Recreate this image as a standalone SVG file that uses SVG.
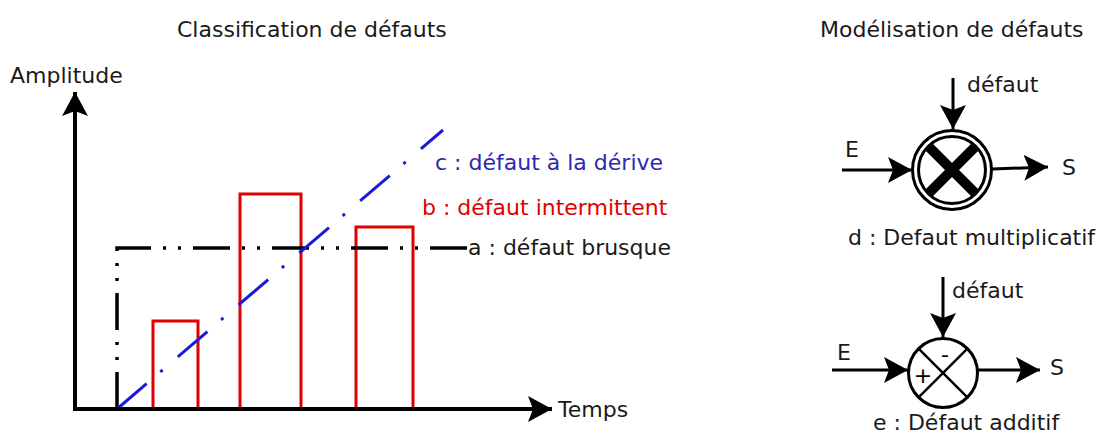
<svg xmlns="http://www.w3.org/2000/svg" width="1099" height="435" viewBox="0 0 1099 435">
<style>
text{font-family:"DejaVu Sans",Verdana,sans-serif;font-size:22px;fill:#1a1a1a}
.sign{fill:#000;font-size:22px}
.ax{stroke:#000;stroke-width:4;fill:none}
.ln{stroke:#000;stroke-width:3;fill:none}
.bar{stroke:#e00000;stroke-width:3;fill:none}
.step{stroke:#000;stroke-width:3.5;fill:none;stroke-dasharray:37 12 3 12 3 12}
.drift{stroke:#1a1ad6;stroke-width:3;fill:none;stroke-dasharray:39 18 3 20}
</style>
<defs>
<marker id="ah" viewBox="0 0 24 26" refX="24" refY="13" markerWidth="24" markerHeight="26" markerUnits="userSpaceOnUse" orient="auto">
<path d="M0,0 L24,13 L0,26 L5,13 Z" fill="#000"/>
</marker>
</defs>
<text x="177" y="37">Classification de défauts</text>
<text x="820" y="37">Modélisation de défauts</text>
<g id="chart">
<path class="bar" d="M153,409 V321 H198 V409"/>
<path class="bar" d="M240,409 V194 H301 V409"/>
<path class="bar" d="M356,409 V227 H413 V409"/>
<path class="step" d="M117,409 V248 H467"/>
<path class="drift" d="M117,409 L443,130"/>
<line class="ax" x1="75" y1="411" x2="75" y2="92" marker-end="url(#ah)"/>
<line class="ax" x1="73" y1="409" x2="552" y2="409" marker-end="url(#ah)"/>
<text x="10" y="83">Amplitude</text>
<text x="558" y="417">Temps</text>
<text x="435" y="170" style="fill:#2a2ab0">c : défaut à la dérive</text>
<text x="422" y="215" style="fill:#e00000">b : défaut intermittent</text>
<text x="468" y="255">a : défaut brusque</text>
</g>
<g id="mult">
<circle cx="952" cy="170" r="39.5" class="ln"/>
<circle cx="952" cy="170" r="33.5" class="ln"/>
<path d="M928,146 L976,194 M976,146 L928,194" stroke="#000" stroke-width="10" fill="none"/>
<text x="967" y="92">défaut</text>
<text x="845" y="157">E</text>
<text x="1062" y="175">S</text>
<text x="848" y="245">d : Defaut multiplicatif</text>
</g>
<g id="add">
<circle cx="943" cy="373" r="34.5" class="ln"/>
<path d="M918.6,348.6 L967.4,397.4 M967.4,348.6 L918.6,397.4" stroke="#000" stroke-width="2.5" fill="none"/>
<text x="945" y="362" text-anchor="middle" class="sign">-</text>
<text x="923" y="383" text-anchor="middle" class="sign">+</text>
<text x="952" y="298">défaut</text>
<text x="837" y="360">E</text>
<text x="1050" y="375">S</text>
<text x="873" y="430">e : Défaut additif</text>
</g>
<g id="connectors">
<line class="ln" x1="953" y1="78" x2="953" y2="129" marker-end="url(#ah)"/>
<line class="ln" x1="842" y1="170" x2="912" y2="170" marker-end="url(#ah)"/>
<line class="ln" x1="992" y1="169" x2="1048" y2="167" marker-end="url(#ah)"/>
<line class="ln" x1="943" y1="277" x2="943" y2="337" marker-end="url(#ah)"/>
<line class="ln" x1="832" y1="370" x2="908" y2="370" marker-end="url(#ah)"/>
<line class="ln" x1="977" y1="370" x2="1040" y2="370" marker-end="url(#ah)"/>
</g>
</svg>
